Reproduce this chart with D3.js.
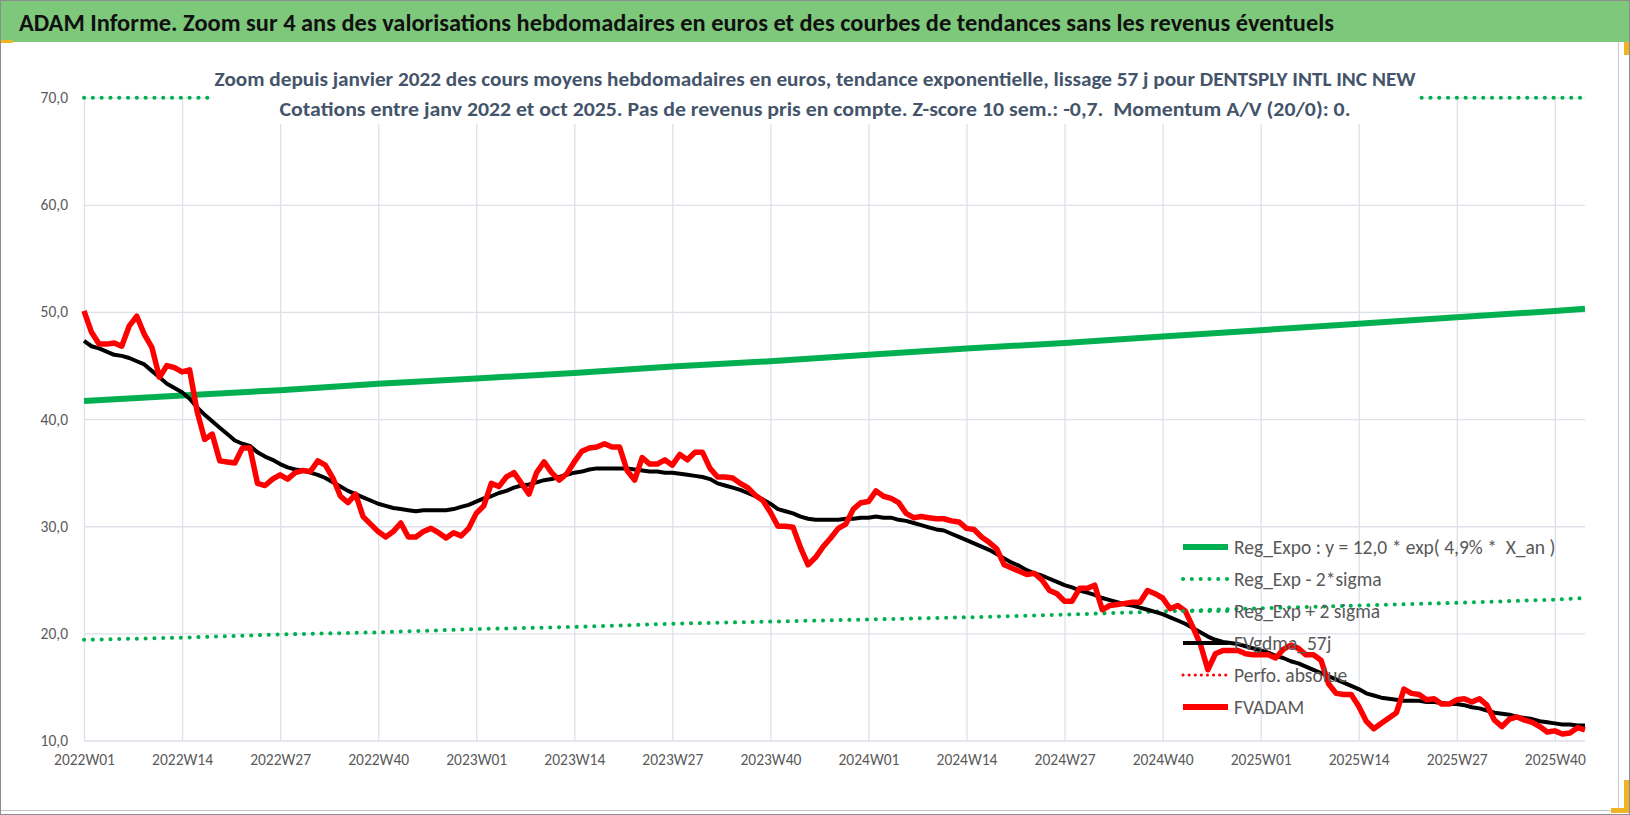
<!DOCTYPE html>
<html>
<head>
<meta charset="utf-8">
<script src="https://cdn.jsdelivr.net/npm/d3@7"></script>
<style>
  body { margin: 0; background: #fff; }
  svg text { font-family: Carlito, "Liberation Sans Narrow", "DejaVu Sans Condensed", "Open Sans", sans-serif; }
</style>
</head>
<body>
<div id="chart"></div>
<script>
// week categories 2022W01 .. 2025W44
const years = [2022, 2023, 2024, 2025];
const weeksPerYear = 52;
const nWeeks = 200;

const tickLabels = ["2022W01", "2022W14", "2022W27", "2022W40", "2023W01", "2023W14", "2023W27", "2023W40",
    "2024W01", "2024W14", "2024W27", "2024W40", "2025W01", "2025W14", "2025W27", "2025W40"];
const yTicks = [10, 20, 30, 40, 50, 60, 70];

// FVADAM weekly average price (euros)
const fvadam = [
    50.1, 48.1, 47.0, 47.0, 47.1, 46.8, 48.7, 49.6, 47.9, 46.7,
    43.9, 45.0, 44.8, 44.4, 44.6, 40.7, 38.1, 38.6, 36.1, 36.0,
    35.9, 37.3, 37.3, 34.0, 33.8, 34.4, 34.8, 34.4, 35.0, 35.2,
    35.1, 36.1, 35.7, 34.5, 32.8, 32.2, 33.0, 30.9, 30.2, 29.5,
    29.0, 29.5, 30.3, 29.0, 29.0, 29.5, 29.8, 29.4, 28.9, 29.4,
    29.1, 29.8, 31.2, 31.9, 34.0, 33.7, 34.6, 35.0, 34.0, 33.0,
    35.0, 36.0, 35.0, 34.3, 34.9, 36.0, 37.0, 37.3, 37.4, 37.7,
    37.4, 37.4, 35.2, 34.3, 36.4, 35.8, 35.8, 36.2, 35.7, 36.7,
    36.2, 36.9, 36.9, 35.4, 34.6, 34.6, 34.5, 34.0, 33.6, 32.9,
    32.4, 31.3, 30.0, 30.0, 29.9, 28.0, 26.4, 27.1, 28.1, 28.9,
    29.8, 30.2, 31.6, 32.2, 32.3, 33.3, 32.8, 32.6, 32.2, 31.2,
    30.8, 30.9, 30.8, 30.7, 30.7, 30.5, 30.4, 29.8, 29.7, 29.0,
    28.5, 27.9, 26.4, 26.1, 25.8, 25.5, 25.6, 25.0, 24.0, 23.7,
    23.0, 23.0, 24.2, 24.2, 24.5, 22.2, 22.6, 22.7, 22.8, 22.9,
    22.9, 24.0, 23.7, 23.3, 22.3, 22.6, 22.1, 20.6, 19.0, 16.6,
    18.1, 18.4, 18.4, 18.4, 18.1, 18.0, 18.0, 18.0, 17.7, 18.5,
    18.9, 18.6, 18.0, 18.0, 17.5, 15.3, 14.4, 14.3, 14.3, 13.2,
    11.8, 11.1, 11.6, 12.1, 12.6, 14.8, 14.4, 14.3, 13.8, 13.9,
    13.4, 13.4, 13.8, 13.9, 13.6, 13.9, 13.3, 11.9, 11.3, 12.0,
    12.2, 11.9, 11.7, 11.3, 10.8, 10.9, 10.6, 10.7, 11.2, 11.0
];

// FVgdma_57j smoothed
const fvgdma = [
    47.3, 46.8, 46.6, 46.3, 46.0, 45.9, 45.7, 45.4, 45.1, 44.5,
    43.9, 43.3, 42.9, 42.5, 41.9, 41.1, 40.4, 39.8, 39.2, 38.6,
    38.0, 37.7, 37.5, 36.9, 36.5, 36.2, 35.8, 35.5, 35.3, 35.2,
    35.0, 34.8, 34.5, 34.1, 33.7, 33.3, 33.0, 32.7, 32.4, 32.1,
    31.9, 31.7, 31.6, 31.5, 31.4, 31.5, 31.5, 31.5, 31.5, 31.6,
    31.8, 32.0, 32.3, 32.6, 32.8, 33.1, 33.3, 33.6, 33.8, 33.9,
    34.1, 34.3, 34.4, 34.6, 34.8, 35.0, 35.1, 35.3, 35.4, 35.4,
    35.4, 35.4, 35.4, 35.3, 35.2, 35.1, 35.1, 35.0, 35.0, 34.9,
    34.8, 34.7, 34.6, 34.4, 34.0, 33.8, 33.6, 33.4, 33.1, 32.8,
    32.5, 32.1, 31.6, 31.4, 31.2, 30.9, 30.7, 30.6, 30.6, 30.6,
    30.6, 30.7, 30.7, 30.8, 30.8, 30.9, 30.8, 30.8, 30.6, 30.5,
    30.3, 30.1, 29.9, 29.7, 29.6, 29.3, 29.0, 28.7, 28.4, 28.1,
    27.8, 27.4, 27.0, 26.6, 26.3, 25.9, 25.6, 25.4, 25.1, 24.8,
    24.5, 24.3, 24.0, 23.8, 23.6, 23.3, 23.1, 22.9, 22.7, 22.6,
    22.4, 22.2, 22.0, 21.8, 21.5, 21.2, 20.9, 20.5, 20.1, 19.7,
    19.4, 19.2, 19.1, 19.0, 18.8, 18.6, 18.4, 18.2, 17.9, 17.7,
    17.4, 17.2, 16.9, 16.6, 16.3, 16.0, 15.7, 15.4, 15.1, 14.8,
    14.4, 14.2, 14.0, 13.9, 13.8, 13.7, 13.7, 13.7, 13.6, 13.6,
    13.5, 13.4, 13.4, 13.3, 13.1, 13.0, 12.8, 12.6, 12.5, 12.4,
    12.2, 12.1, 12.0, 11.8, 11.7, 11.6, 11.5, 11.5, 11.4, 11.4
];

// trend curves read at the quarterly ticks and at the last week
const trendWeeks = ["2022W01", "2022W14", "2022W27", "2022W40", "2023W01", "2023W14", "2023W27", "2023W40",
    "2024W01", "2024W14", "2024W27", "2024W40", "2025W01", "2025W14", "2025W27", "2025W40", "2025W44"];
const regExpo = [41.7, 42.2, 42.7, 43.3, 43.8, 44.3, 44.9, 45.4, 46.0, 46.6, 47.1, 47.7, 48.3, 48.9, 49.5, 50.1, 50.3];
const regMinus2s = [19.4, 19.6, 19.9, 20.1, 20.4, 20.6, 20.9, 21.1, 21.3, 21.5, 21.75, 22.05, 22.35, 22.6, 22.85, 23.15, 23.3];
const regPlus2s = [70, 70, 70, 70, 70, 70, 70, 70, 70, 70, 70, 70, 70, 70, 70, 70, 70];

const legendLabels = ["Reg_Expo : y = 12,0 * exp( 4,9% *  X_an )", "Reg_Exp - 2*sigma", "Reg_Exp + 2 sigma",
    "FVgdma_57j", "Perfo. absolue", "FVADAM"];

const weeks = [];
years.forEach(y => {
    for (let w = 1; w <= weeksPerYear; w++) weeks.push(y + "W" + String(w).padStart(2, "0"));
});
const categories = weeks.slice(0, nWeeks);

// ---- drawing
const W = 1630, H = 815;
const svg = d3.select("#chart").append("svg").attr("width", W).attr("height", H);

svg.append("rect").attr("x", 0.5).attr("y", 0.5).attr("width", W - 1).attr("height", H - 1)
    .attr("fill", "#fff").attr("stroke", "#8c8c8c");
svg.append("rect").attr("x", 1).attr("y", 1).attr("width", W - 2).attr("height", 41).attr("fill", "#7ec87c");
svg.append("line").attr("x1", 1618.5).attr("x2", 1618.5).attr("y1", 42).attr("y2", 810).attr("stroke", "#c8c8c8");
svg.append("line").attr("x1", 1).attr("x2", 1618).attr("y1", 810.5).attr("y2", 810.5).attr("stroke", "#c8c8c8");
// excel selection marks
svg.append("rect").attr("x", 1624).attr("y", 42).attr("width", 5).attr("height", 13).attr("fill", "#f0b323");
svg.append("rect").attr("x", 1624).attr("y", 780).attr("width", 5).attr("height", 33).attr("fill", "#f0b323");
svg.append("rect").attr("x", 1611).attr("y", 808).attr("width", 18).attr("height", 5).attr("fill", "#f0b323");
svg.append("rect").attr("x", 1).attr("y", 40).attr("width", 12).attr("height", 3).attr("fill", "#f0b323");

svg.append("text").attr("x", 19).attr("y", 31)
    .attr("font-size", 25).attr("font-weight", "bold").attr("fill", "#111")
    .attr("textLength", 1315).attr("lengthAdjust", "spacingAndGlyphs")
    .text("ADAM Informe. Zoom sur 4 ans des valorisations hebdomadaires en euros et des courbes de tendances sans les revenus éventuels");

const margin = {left: 84, right: 1585, top: 97.7, bottom: 740.5};

const x = d3.scalePoint().domain(categories).range([margin.left, margin.right]);
const y = d3.scaleLinear().domain([10, 70]).range([margin.bottom, margin.top]);

const fmt = d => d3.format(".1f")(d).replace(".", ",");

const yAxis = svg.append("g").attr("transform", "translate(" + margin.left + ",0)")
    .call(d3.axisLeft(y).tickValues(yTicks).tickFormat(fmt).tickSize(-(margin.right - margin.left)).tickPadding(16));
const xAxis = svg.append("g").attr("transform", "translate(0," + margin.bottom + ")")
    .call(d3.axisBottom(x).tickValues(tickLabels).tickSize(-(margin.bottom - margin.top)).tickPadding(13));

[yAxis, xAxis].forEach(g => {
    g.select(".domain").remove();
    g.selectAll(".tick line").attr("stroke", "#dde1e8").attr("stroke-width", 1.3);
    g.selectAll(".tick text").attr("fill", "#595959").attr("font-size", 15.5);
});

const line = d3.line().x((d, i) => x(categories[i])).y(d => y(d));
const trendLine = d3.line().x((d, i) => x(trendWeeks[i])).y(d => y(d));

const dotted = "0.1 8.7";

svg.append("path").datum(regPlus2s).attr("d", trendLine).attr("fill", "none")
    .attr("stroke", "#00b050").attr("stroke-width", 4).attr("stroke-linecap", "round").attr("stroke-dasharray", dotted);
svg.append("path").datum(regMinus2s).attr("d", trendLine).attr("fill", "none")
    .attr("stroke", "#00b050").attr("stroke-width", 4).attr("stroke-linecap", "round").attr("stroke-dasharray", dotted);
svg.append("path").datum(regExpo).attr("d", trendLine).attr("fill", "none")
    .attr("stroke", "#00b050").attr("stroke-width", 6);
svg.append("path").datum(fvgdma).attr("d", line).attr("fill", "none")
    .attr("stroke", "#000").attr("stroke-width", 4).attr("stroke-linejoin", "round");
svg.append("path").datum(fvadam).attr("d", line).attr("fill", "none")
    .attr("stroke", "#ff0000").attr("stroke-width", 5.5).attr("stroke-linejoin", "round");

// subtitle, over a white box
svg.append("rect").attr("x", 211).attr("y", 62).attr("width", 1207).attr("height", 62).attr("fill", "#fff");
svg.append("text").attr("x", W / 2).attr("y", 86).attr("text-anchor", "middle")
    .attr("font-size", 21).attr("font-weight", "bold").attr("fill", "#44546a")
    .attr("textLength", 1201).attr("lengthAdjust", "spacingAndGlyphs")
    .text("Zoom depuis janvier 2022 des cours moyens hebdomadaires en euros, tendance exponentielle, lissage 57 j pour DENTSPLY INTL INC NEW");
svg.append("text").attr("x", W / 2).attr("y", 116).attr("text-anchor", "middle")
    .attr("font-size", 21).attr("font-weight", "bold").attr("fill", "#44546a")
    .attr("textLength", 1071).attr("lengthAdjust", "spacingAndGlyphs")
    .style("white-space", "pre")
    .text("Cotations entre janv 2022 et oct 2025. Pas de revenus pris en compte. Z-score 10 sem.: -0,7.  Momentum A/V (20/0): 0.");

// legend
const legendStyles = [
    {stroke: "#00b050", width: 6, dash: null},
    {stroke: "#00b050", width: 4, dash: dotted},
    {stroke: "#00b050", width: 4, dash: dotted},
    {stroke: "#000", width: 4, dash: null},
    {stroke: "#ff0000", width: 3, dash: "0.1 6"},
    {stroke: "#ff0000", width: 6, dash: null}
];
const legend = svg.append("g").attr("transform", "translate(1182,547)");
const items = legend.selectAll("g").data(legendLabels).join("g")
    .attr("transform", (d, i) => "translate(0," + (i * 32) + ")");
items.append("line").attr("x1", 1).attr("x2", 46).attr("y1", 0).attr("y2", 0)
    .attr("stroke", (d, i) => legendStyles[i].stroke)
    .attr("stroke-width", (d, i) => legendStyles[i].width)
    .attr("stroke-linecap", (d, i) => legendStyles[i].dash ? "round" : "butt")
    .attr("stroke-dasharray", (d, i) => legendStyles[i].dash);
items.append("text").attr("x", 52).attr("y", 0).attr("dy", "0.35em")
    .attr("font-size", 19.5).attr("fill", "#595959").style("white-space", "pre")
    .text(d => d);
</script>
</body>
</html>
